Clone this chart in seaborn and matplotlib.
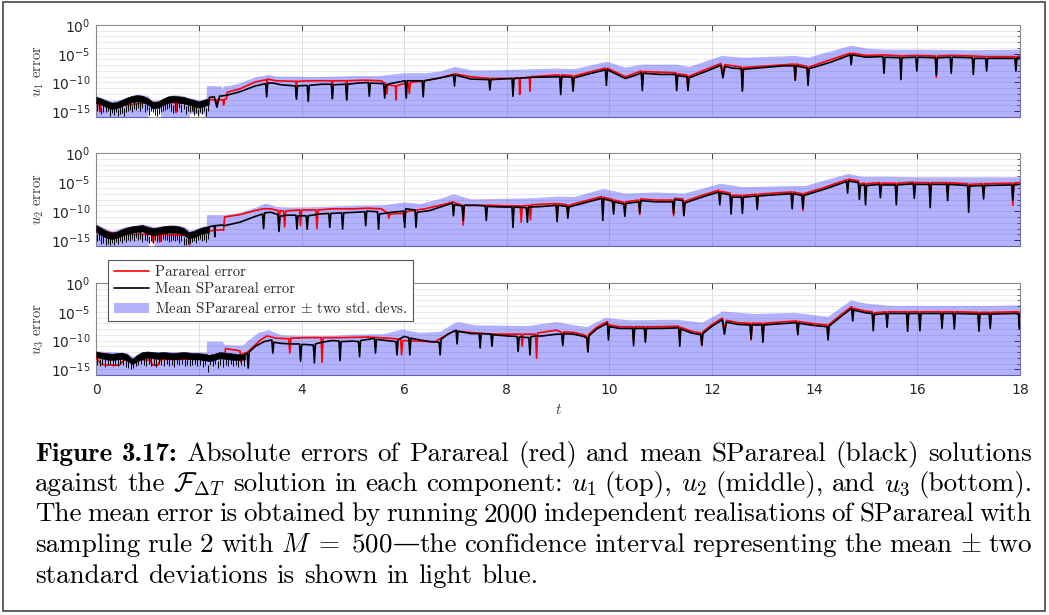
import numpy as np
import matplotlib
matplotlib.use("Agg")
import matplotlib.pyplot as plt
import matplotlib.ticker as mticker
from matplotlib.lines import Line2D
from matplotlib.patches import Patch, Rectangle
from matplotlib.transforms import IdentityTransform
import seaborn as sns

# all values are log10(error)

# ---------- u1 ----------
U1_NOISE_T = [0.0, 0.1, 0.2, 0.3, 0.4, 0.5, 0.6, 0.7, 0.8, 0.9, 1.0, 1.1,
              1.2, 1.3, 1.4, 1.5, 1.6, 1.7, 1.8, 1.9, 2.0, 2.1, 2.2]
U1_NOISE_HI = [-12.5, -12.8, -13.2, -13.5, -13.4, -13.0, -12.6, -12.3, -12.2, -12.3, -12.7, -13.4,
               -13.3, -12.8, -12.4, -12.3, -12.4, -12.5, -12.8, -13.0, -13.3, -13.0, -12.7]
U1_NOISE_LO = [-13.6, -13.9, -14.3, -14.6, -14.5, -14.1, -13.7, -13.4, -13.3, -13.4, -13.8, -14.5,
               -14.4, -13.9, -13.5, -13.4, -13.5, -13.6, -13.9, -14.1, -14.4, -14.1, -13.8]
SPIKE_T = [0.02, 0.06, 0.10, 0.14, 0.18, 0.22, 0.26, 0.30, 0.34, 0.38, 0.42, 0.46, 0.50, 0.54,
           0.58, 0.62, 0.66, 0.70, 0.74, 0.78, 0.82, 0.86, 0.90, 0.94, 0.98, 1.02, 1.06, 1.10,
           1.14, 1.18, 1.22, 1.26, 1.30, 1.34, 1.38, 1.42, 1.46, 1.50, 1.54, 1.58, 1.62, 1.66,
           1.70, 1.74, 1.78, 1.82, 1.86, 1.90, 1.94, 1.98, 2.02, 2.06, 2.10, 2.14, 2.18]
U1_SPIKE_V = [-15.0, -14.6, -15.5, -15.1, -15.2, -14.9, -15.8, -15.3, -15.6, -15.1,
              -15.9, -15.4, -15.3, -15.8, -15.2, -15.0, -14.7, -15.2, -14.6, -14.8,
              -14.4, -14.9, -14.5, -15.1, -14.7, -15.6, -15.0, -15.2, -15.7, -15.9,
              -15.4, -15.1, -15.0, -14.8, -14.6, -14.4, -14.9, -15.3, -14.7, -14.9,
              -14.4, -15.1, -14.6, -15.4, -14.9, -15.2, -15.0, -15.6, -15.3, -15.9,
              -15.2, -15.5, -15.0, -15.8, -14.9]
U1_BLACK = [(2.20, -12.6), (2.30, -12.5), (2.35, -14.3), (2.40, -12.4), (2.55, -12.2), (2.80, -11.6),
            (3.10, -10.6), (3.30, -10.2), (3.32, -12.5), (3.34, -10.1), (3.45, -10.1), (3.60, -10.4),
            (3.88, -10.6), (3.90, -12.9), (3.92, -10.6), (4.11, -10.5), (4.13, -13.3), (4.15, -10.5),
            (4.40, -10.3), (4.58, -10.3), (4.60, -12.8), (4.62, -10.4), (4.86, -10.3), (4.88, -13.0),
            (4.90, -10.3), (5.10, -10.1), (5.30, -10.0), (5.32, -12.4), (5.34, -10.1), (5.60, -10.2),
            (5.62, -12.7), (5.64, -10.5), (5.72, -10.2), (5.90, -9.9), (6.02, -9.7), (6.04, -12.7),
            (6.06, -9.7), (6.35, -9.7), (6.37, -12.5), (6.39, -9.7), (6.70, -9.2), (6.96, -8.7),
            (6.98, -10.6), (7.00, -8.7), (7.30, -9.4), (7.65, -9.5), (7.67, -11.3), (7.69, -9.5),
            (8.10, -9.3), (8.12, -12.4), (8.14, -9.3), (8.50, -9.1), (9.03, -9.0), (9.05, -12.1),
            (9.07, -9.0), (9.27, -9.1), (9.29, -11.5), (9.31, -9.2), (9.60, -8.5), (9.92, -7.8),
            (9.94, -10.5), (9.96, -7.8), (10.31, -9.3), (10.55, -8.6), (10.62, -8.3), (10.64, -11.4),
            (10.66, -8.4), (11.00, -8.6), (11.29, -8.6), (11.31, -11.4), (11.33, -8.8), (11.51, -9.0),
            (11.53, -11.4), (11.55, -9.2), (11.90, -8.0), (12.17, -7.0), (12.21, -9.2), (12.25, -7.2),
            (12.40, -7.5), (12.57, -7.6), (12.59, -11.5), (12.61, -7.7), (13.00, -7.4), (13.40, -7.1),
            (13.60, -7.1), (13.62, -9.6), (13.64, -7.1), (13.85, -7.5), (13.87, -10.5), (13.89, -7.6),
            (14.30, -6.5), (14.69, -5.2), (14.71, -6.9), (14.73, -5.2), (15.00, -5.6), (15.33, -5.5),
            (15.35, -8.4), (15.37, -5.6), (15.66, -5.7), (15.68, -9.5), (15.70, -5.7), (15.97, -5.6),
            (15.99, -8.0), (16.01, -5.6), (16.35, -5.7), (16.37, -8.7), (16.39, -5.7), (16.64, -5.6),
            (16.66, -8.4), (16.68, -5.6), (17.07, -5.7), (17.09, -8.6), (17.11, -5.8), (17.33, -5.8),
            (17.35, -8.0), (17.37, -5.8), (17.90, -5.8), (17.92, -8.0), (17.94, -5.8), (18.00, -5.7)]
U1_RED = [(0.00, -13.5), (0.06, -13.8), (0.07, -15.1), (0.08, -13.8), (0.50, -14.0), (1.00, -13.5),
          (1.54, -13.5), (1.55, -15.2), (1.56, -13.5), (1.90, -13.8), (1.91, -15.0), (1.92, -13.8),
          (2.20, -13.0), (2.34, -13.0), (2.35, -14.0), (2.36, -13.0), (2.47, -13.0), (2.48, -13.9),
          (2.50, -12.9), (2.54, -12.8), (2.55, -11.7), (2.80, -11.1), (3.10, -9.9), (3.32, -9.5),
          (3.33, -10.3), (3.34, -9.4), (3.50, -9.7), (3.89, -9.8), (3.90, -12.5), (3.91, -9.8),
          (4.20, -9.7), (4.59, -9.7), (4.60, -12.8), (4.61, -9.7), (4.87, -9.7), (4.88, -13.0),
          (4.89, -9.7), (5.20, -9.6), (5.55, -9.7), (5.64, -10.2), (5.66, -12.0), (5.68, -10.4),
          (5.83, -10.6), (5.84, -13.0), (5.85, -10.6), (5.95, -10.3), (6.08, -10.1), (6.10, -11.9),
          (6.12, -10.0), (6.40, -9.7), (6.70, -9.2), (6.98, -8.5), (7.30, -9.0), (7.67, -9.3),
          (8.12, -9.3), (8.24, -9.2), (8.25, -12.1), (8.26, -9.2), (8.44, -9.1), (8.45, -11.5),
          (8.46, -9.0), (8.96, -8.7), (9.03, -8.7), (9.05, -10.5), (9.07, -8.7), (9.27, -8.8),
          (9.29, -11.0), (9.31, -8.9), (9.60, -8.2), (9.92, -7.5), (9.94, -9.0), (9.96, -7.5),
          (10.31, -9.0), (10.62, -8.0), (10.64, -10.5), (10.66, -8.1), (11.29, -8.3), (11.31, -10.0),
          (11.33, -8.5), (11.51, -8.7), (11.53, -11.2), (11.55, -8.9), (12.17, -6.7), (12.21, -8.0),
          (12.25, -6.9), (12.57, -7.3), (12.59, -11.3), (12.61, -7.4), (13.60, -6.8), (13.62, -9.6),
          (13.64, -6.8), (13.85, -7.2), (13.87, -9.5), (13.89, -7.3), (14.69, -4.9), (14.71, -6.0),
          (14.73, -4.9), (15.00, -5.3), (15.35, -5.2), (15.68, -5.4), (15.99, -5.3), (16.35, -5.4),
          (16.37, -9.1), (16.39, -5.4), (16.66, -5.3), (17.09, -5.4), (17.35, -5.5), (17.90, -5.5),
          (17.92, -6.5), (17.94, -5.5), (18.00, -5.4)]
# (t, lower, upper) of mean +- two std. devs.
U1_BAND = [(0.0, -17, -12.3), (0.3, -17, -13.2), (0.5, -17, -12.9), (0.8, -17, -12.0), (1.0, -17, -12.3),
           (1.01, -14.6, -12.4), (1.1, -14.6, -13.1), (1.25, -14.6, -13.0), (1.26, -17, -12.9),
           (1.5, -17, -12.1), (1.7, -17, -12.3), (1.8, -17, -12.6), (1.81, -15.4, -12.6), (2.0, -15.4, -13.0),
           (2.1, -15.4, -12.8), (2.11, -17, -12.8), (2.14, -17, -12.7), (2.15, -17, -10.5), (2.43, -17, -10.6),
           (2.45, -17, -11.2), (2.47, -17, -10.6), (2.6, -17, -10.5), (2.8, -17, -10.0), (3.1, -17, -9.0),
           (3.3, -17, -8.7), (3.36, -17, -8.6), (3.5, -17, -8.9), (3.9, -17, -8.9), (4.13, -17, -9.0),
           (4.6, -17, -8.9), (5.0, -17, -8.8), (5.5, -17, -8.8), (5.7, -17, -8.6), (6.0, -17, -8.3),
           (6.4, -17, -8.3), (6.7, -17, -8.0), (6.98, -17, -7.2), (7.05, -17, -7.3), (7.3, -17, -7.8),
           (7.7, -17, -7.8), (8.1, -17, -7.7), (8.5, -17, -7.6), (9.0, -17, -7.5), (9.3, -17, -7.6),
           (9.94, -17, -6.3), (10.3, -17, -7.3), (10.64, -17, -6.8), (11.3, -17, -6.8), (11.55, -17, -7.2),
           (12.18, -17, -5.3), (12.6, -17, -5.6), (13.6, -17, -5.3), (13.87, -17, -5.6), (14.7, -17, -3.5),
           (15.0, -17, -4.0), (15.35, -17, -4.2), (16.0, -17, -4.2), (17.0, -17, -4.3), (18.0, -17, -4.2)]

# ---------- u2 ----------
U2_NOISE_T = U1_NOISE_T
U2_NOISE_HI = [-12.4, -12.9, -13.4, -13.7, -13.5, -13.1, -12.8, -12.6, -12.5, -12.4, -12.7, -12.9,
               -12.8, -12.6, -12.5, -12.5, -12.6, -12.9, -13.6, -13.4, -13.0, -12.7, -12.6]
U2_NOISE_LO = [-13.6, -14.2, -14.6, -14.8, -14.6, -14.2, -13.9, -13.7, -13.6, -13.5, -13.9, -14.1,
               -14.0, -13.8, -13.7, -13.7, -13.8, -14.1, -14.7, -14.5, -14.1, -13.8, -13.7]
U2_SPIKE_V = [-15.2, -15.0, -15.6, -15.4, -15.9, -15.7, -15.8, -15.5, -15.9, -15.3,
              -15.6, -15.2, -15.4, -15.0, -15.3, -14.9, -15.1, -14.8, -15.2, -14.7,
              -15.0, -14.8, -15.3, -14.9, -15.1, -15.5, -15.2, -15.4, -15.0, -15.3,
              -14.9, -15.2, -14.8, -15.0, -14.9, -15.3, -15.1, -14.9, -15.2, -15.0,
              -15.4, -15.2, -15.8, -15.9, -15.6, -15.5, -15.3, -15.1, -15.4, -15.0,
              -14.8, -15.2, -14.9, -15.3, -14.8]
U2_BLACK = [(2.20, -12.7), (2.30, -12.5), (2.31, -14.4), (2.32, -12.5), (2.45, -12.4), (2.50, -12.5),
            (2.80, -11.9), (3.10, -10.9), (3.24, -10.5), (3.26, -13.0), (3.28, -10.3), (3.40, -10.2),
            (3.54, -10.6), (3.56, -13.5), (3.58, -10.9), (3.70, -10.7), (3.89, -10.7), (3.91, -13.1),
            (3.93, -10.8), (4.09, -10.8), (4.11, -13.1), (4.13, -10.8), (4.35, -10.5), (4.53, -10.4),
            (4.55, -12.8), (4.57, -10.4), (4.78, -10.3), (4.80, -13.1), (4.82, -10.3), (5.05, -10.2),
            (5.23, -10.1), (5.25, -12.5), (5.27, -10.0), (5.48, -10.1), (5.50, -13.1), (5.52, -10.5),
            (5.75, -10.2), (5.99, -10.0), (6.01, -12.8), (6.03, -9.6), (6.21, -9.8), (6.23, -12.8),
            (6.25, -10.2), (6.50, -9.9), (6.80, -9.0), (6.94, -8.6), (6.96, -10.8), (6.98, -8.9),
            (7.13, -9.1), (7.15, -11.6), (7.17, -9.0), (7.40, -9.0), (7.58, -9.1), (7.60, -11.6),
            (7.62, -9.2), (7.95, -9.3), (8.10, -9.3), (8.12, -12.8), (8.14, -9.3), (8.38, -9.4),
            (8.40, -11.9), (8.42, -9.3), (8.70, -9.2), (8.96, -9.0), (8.98, -11.8), (9.00, -9.0),
            (9.17, -9.2), (9.19, -11.2), (9.21, -9.3), (9.50, -8.6), (9.85, -7.8), (9.87, -11.6),
            (9.89, -7.9), (10.06, -8.3), (10.08, -10.5), (10.10, -8.4), (10.28, -8.8), (10.30, -10.9),
            (10.32, -8.7), (10.57, -8.4), (10.59, -10.3), (10.61, -8.2), (10.90, -8.4), (11.23, -8.4),
            (11.25, -10.4), (11.27, -8.0), (11.43, -8.2), (11.45, -10.8), (11.47, -8.6), (11.80, -7.6),
            (12.13, -6.7), (12.15, -8.9), (12.17, -6.9), (12.35, -7.2), (12.37, -10.5), (12.39, -7.6),
            (12.57, -7.6), (12.59, -10.4), (12.61, -7.6), (12.86, -7.4), (12.88, -9.7), (12.90, -7.4),
            (13.20, -7.2), (13.54, -7.0), (13.56, -9.6), (13.58, -7.0), (13.75, -7.3), (13.77, -9.5),
            (13.79, -7.3), (14.20, -6.2), (14.62, -4.9), (14.64, -6.9), (14.66, -4.8), (14.85, -5.1),
            (14.87, -8.0), (14.89, -5.6), (14.97, -5.5), (14.99, -8.9), (15.01, -5.6), (15.26, -5.4),
            (15.28, -7.7), (15.30, -5.5), (15.57, -5.5), (15.59, -8.9), (15.61, -5.5), (15.92, -5.3),
            (15.94, -7.8), (15.96, -5.4), (16.23, -5.4), (16.25, -9.4), (16.27, -5.4), (16.57, -5.4),
            (16.59, -8.2), (16.61, -5.4), (16.98, -5.6), (17.00, -10.2), (17.02, -5.7), (17.27, -5.6),
            (17.29, -7.9), (17.31, -5.6), (17.84, -5.5), (17.86, -8.1), (17.88, -5.5), (18.00, -5.4)]
U2_RED = [(0.00, -13.3), (0.50, -14.0), (1.09, -14.0), (1.11, -15.4), (1.13, -14.0), (1.22, -14.0),
          (1.24, -15.3), (1.26, -14.0), (1.80, -14.2), (1.82, -15.8), (1.84, -14.2), (2.20, -13.4),
          (2.45, -13.2), (2.48, -13.3), (2.50, -11.0), (2.80, -10.6), (3.10, -9.9), (3.25, -9.6),
          (3.40, -9.6), (3.54, -9.9), (3.56, -12.9), (3.58, -9.9), (3.65, -10.0), (3.67, -12.7),
          (3.69, -10.0), (3.80, -9.9), (3.96, -9.8), (3.98, -12.5), (4.00, -9.8), (4.28, -9.8),
          (4.30, -13.0), (4.32, -9.8), (4.60, -9.6), (5.00, -9.6), (5.30, -9.5), (5.55, -9.6),
          (5.68, -10.3), (5.70, -11.2), (5.72, -10.5), (5.90, -10.4), (5.98, -10.4), (6.00, -11.8),
          (6.02, -10.2), (6.10, -10.0), (6.40, -9.6), (6.80, -8.8), (6.95, -8.4), (7.00, -8.6),
          (7.13, -9.0), (7.15, -12.4), (7.17, -9.0), (7.40, -9.0), (7.70, -9.0), (8.00, -9.1),
          (8.26, -9.1), (8.28, -11.9), (8.30, -9.1), (8.44, -9.0), (8.46, -11.5), (8.48, -8.9),
          (8.70, -8.8), (8.96, -8.7), (8.98, -11.0), (9.00, -8.7), (9.17, -8.9), (9.19, -10.6),
          (9.21, -9.0), (9.50, -8.3), (9.85, -7.5), (9.87, -9.5), (9.89, -7.6), (10.06, -8.0),
          (10.08, -9.8), (10.10, -8.1), (10.28, -8.5), (10.30, -10.2), (10.32, -8.4), (10.57, -8.1),
          (10.59, -10.6), (10.61, -7.9), (10.90, -8.1), (11.23, -8.1), (11.25, -10.8), (11.27, -7.8),
          (11.43, -7.9), (11.45, -10.7), (11.47, -8.3), (11.80, -7.3), (12.13, -6.4), (12.15, -7.8),
          (12.17, -6.6), (12.35, -6.9), (12.37, -9.0), (12.39, -7.3), (12.57, -7.3), (12.59, -9.8),
          (12.61, -7.3), (12.86, -7.1), (12.88, -8.9), (12.90, -7.1), (13.20, -6.9), (13.54, -6.7),
          (13.56, -8.5), (13.58, -6.7), (13.75, -7.0), (13.77, -9.9), (13.79, -7.0), (14.20, -5.9),
          (14.62, -4.6), (14.64, -5.8), (14.66, -4.5), (14.85, -4.8), (14.87, -6.5), (14.89, -5.3),
          (14.97, -5.2), (14.99, -7.0), (15.01, -5.3), (15.26, -5.1), (15.28, -6.5), (15.30, -5.2),
          (15.57, -5.2), (15.59, -7.2), (15.61, -5.2), (15.92, -5.0), (15.94, -6.8), (15.96, -5.1),
          (16.23, -5.1), (16.25, -7.5), (16.27, -5.1), (16.57, -5.1), (16.59, -7.0), (16.61, -5.1),
          (16.98, -5.3), (17.00, -7.5), (17.02, -5.4), (17.27, -5.3), (17.29, -6.8), (17.31, -5.3),
          (17.84, -5.2), (17.86, -9.0), (17.88, -5.2), (18.00, -5.1)]
U2_BAND = [(0.0, -17, -12.2), (0.3, -17, -13.4), (0.6, -17, -12.6), (0.9, -17, -12.2), (1.01, -17, -12.4),
           (1.02, -14.2, -12.4), (1.12, -14.2, -12.7), (1.13, -17, -12.7), (1.2, -17, -12.6), (1.5, -17, -12.3),
           (1.7, -17, -12.6), (1.82, -17, -13.3), (2.0, -17, -12.8), (2.14, -17, -12.5), (2.15, -17, -10.6),
           (2.5, -17, -10.6), (2.8, -17, -10.2), (3.1, -17, -9.3), (3.3, -17, -8.6), (3.5, -17, -9.2),
           (3.8, -17, -9.3), (4.4, -17, -9.2), (5.0, -17, -9.0), (5.6, -17, -8.9), (6.0, -17, -8.4),
           (6.3, -17, -8.7), (6.7, -17, -7.8), (6.95, -17, -7.0), (7.3, -17, -7.9), (7.9, -17, -7.8),
           (8.5, -17, -7.7), (9.0, -17, -7.4), (9.3, -17, -7.5), (9.87, -17, -6.1), (10.3, -17, -6.9),
           (10.9, -17, -6.7), (11.45, -17, -6.9), (12.15, -17, -5.2), (12.6, -17, -5.8), (13.5, -17, -5.6),
           (13.8, -17, -5.6), (14.65, -17, -3.5), (14.9, -17, -4.0), (15.4, -17, -4.0), (16.0, -17, -4.1),
           (17.0, -17, -4.1), (18.0, -17, -4.1)]

# ---------- u3 ----------
U3_NOISE_T = [0.0, 0.1, 0.2, 0.3, 0.4, 0.5, 0.6, 0.7, 0.8, 0.9, 1.0, 1.1, 1.2, 1.3, 1.4,
              1.5, 1.6, 1.7, 1.8, 1.9, 2.0, 2.1, 2.2, 2.3, 2.4, 2.5, 2.6, 2.7, 2.8, 2.9]
U3_NOISE_HI = [-11.9, -12.1, -12.2, -12.3, -12.2, -12.1, -12.4, -13.2, -12.5, -12.0, -11.9, -12.0, -12.1, -12.0, -12.1,
               -12.2, -12.1, -12.0, -12.1, -12.2, -12.2, -12.3, -12.5, -12.3, -12.0, -12.1, -12.2, -12.3, -12.4, -12.4]
U3_NOISE_LO = [-12.9, -13.1, -13.3, -13.4, -13.3, -13.2, -13.5, -14.1, -13.6, -13.2, -13.0, -13.1, -13.2, -13.1, -13.2,
               -13.3, -13.2, -13.1, -13.2, -13.3, -13.3, -13.4, -13.6, -13.4, -13.1, -13.2, -13.3, -13.4, -13.4, -13.3]
U3_SPIKE_T = [0.02, 0.07, 0.12, 0.17, 0.22, 0.27, 0.32, 0.37, 0.42, 0.47, 0.52, 0.57, 0.62, 0.67, 0.72,
              0.77, 0.82, 0.87, 0.92, 0.97, 1.02, 1.07, 1.12, 1.17, 1.22, 1.27, 1.32, 1.37, 1.42, 1.47,
              1.52, 1.57, 1.62, 1.67, 1.72, 1.77, 1.82, 1.87, 1.92, 1.97, 2.02, 2.07, 2.12, 2.17, 2.22,
              2.27, 2.32, 2.37, 2.42, 2.47, 2.52, 2.57, 2.62, 2.67, 2.72, 2.77, 2.82, 2.87]
U3_SPIKE_V = [-14.2, -14.5, -14.0, -14.6, -14.3, -14.1, -14.5, -14.2, -14.4, -14.0,
              -14.3, -14.6, -14.8, -15.0, -14.7, -14.4, -14.2, -14.0, -14.3, -14.5,
              -14.1, -14.4, -14.2, -14.6, -14.0, -14.3, -14.5, -14.1, -14.4, -14.2,
              -14.6, -14.1, -14.3, -14.0, -14.4, -14.2, -14.5, -14.3, -14.1, -14.4,
              -14.2, -14.6, -14.3, -15.5, -14.2, -14.4, -14.1, -14.8, -14.3, -14.6,
              -14.2, -14.4, -14.0, -14.5, -14.3, -14.6, -14.2, -14.5]
U3_BLACK = [(2.90, -12.4), (2.94, -12.2), (2.96, -14.8), (2.98, -12.0), (3.10, -11.0), (3.27, -10.2),
            (3.42, -9.9), (3.44, -12.2), (3.46, -10.3), (3.60, -10.5), (3.80, -10.6), (3.96, -10.6),
            (3.98, -13.6), (4.00, -10.7), (4.10, -10.7), (4.23, -10.8), (4.25, -13.9), (4.27, -10.6),
            (4.40, -10.3), (4.60, -10.0), (4.73, -10.1), (4.75, -13.5), (4.77, -10.2), (5.00, -10.1),
            (5.11, -10.2), (5.13, -12.8), (5.15, -10.0), (5.30, -9.8), (5.42, -9.6), (5.44, -12.2),
            (5.46, -9.8), (5.65, -10.0), (5.84, -10.2), (5.86, -12.5), (5.88, -9.9), (6.00, -9.3),
            (6.09, -9.5), (6.11, -12.5), (6.13, -9.6), (6.30, -9.9), (6.50, -10.2), (6.68, -10.3),
            (6.70, -12.5), (6.72, -9.8), (6.85, -8.9), (7.01, -8.2), (7.03, -10.6), (7.05, -8.4),
            (7.30, -8.8), (7.46, -8.8), (7.48, -11.3), (7.50, -8.8), (7.69, -8.9), (7.71, -11.0),
            (7.73, -9.0), (8.00, -9.2), (8.20, -9.3), (8.22, -11.9), (8.24, -9.4), (8.43, -9.5),
            (8.45, -12.5), (8.47, -9.3), (8.70, -9.2), (8.97, -8.9), (9.07, -8.9), (9.09, -10.9),
            (9.11, -8.8), (9.30, -8.9), (9.50, -9.3), (9.56, -9.6), (9.58, -12.0), (9.60, -9.2),
            (9.75, -8.0), (9.90, -7.3), (9.96, -7.0), (9.98, -9.9), (10.00, -7.6), (10.20, -7.9),
            (10.45, -7.9), (10.47, -10.9), (10.49, -7.9), (10.68, -7.9), (10.70, -10.3), (10.72, -7.9),
            (11.00, -7.9), (11.35, -7.8), (11.37, -11.0), (11.39, -8.0), (11.60, -8.7), (11.78, -9.0),
            (11.80, -10.8), (11.82, -8.8), (12.00, -7.5), (12.20, -6.4), (12.24, -8.9), (12.28, -6.8),
            (12.50, -7.2), (12.74, -7.3), (12.76, -9.7), (12.78, -7.3), (12.97, -7.3), (12.99, -10.3),
            (13.01, -7.3), (13.30, -7.1), (13.65, -6.9), (13.67, -9.0), (13.69, -7.0), (14.00, -7.4),
            (14.24, -7.6), (14.26, -9.9), (14.28, -7.5), (14.50, -5.9), (14.72, -4.4), (14.74, -6.6),
            (14.76, -4.7), (15.00, -5.2), (15.12, -5.3), (15.14, -8.3), (15.16, -5.5), (15.39, -5.3),
            (15.41, -7.7), (15.43, -5.3), (15.79, -5.3), (15.81, -8.4), (15.83, -5.3), (16.03, -5.3),
            (16.05, -8.3), (16.07, -5.3), (16.46, -5.3), (16.48, -7.9), (16.50, -5.3), (16.70, -5.3),
            (16.72, -8.0), (16.74, -5.3), (17.18, -5.4), (17.20, -8.4), (17.22, -5.4), (17.40, -5.4),
            (17.42, -7.9), (17.44, -5.4), (17.90, -5.3), (17.97, -5.4), (17.99, -7.9), (18.00, -5.4)]
U3_RED = [(0.00, -13.0), (0.10, -14.2), (0.45, -14.3), (0.55, -13.3), (1.05, -13.4), (1.10, -14.3),
          (1.20, -14.3), (1.25, -13.3), (2.00, -13.2), (2.10, -13.4), (2.15, -12.5), (2.20, -12.8),
          (2.50, -12.6), (2.52, -11.4), (2.80, -11.8), (2.82, -13.8), (2.84, -12.4), (2.95, -12.0),
          (3.20, -9.9), (3.33, -9.2), (3.50, -9.6), (3.75, -9.7), (3.77, -12.2), (3.79, -9.6),
          (4.10, -9.5), (4.38, -9.5), (4.40, -13.8), (4.42, -9.5), (4.80, -9.5), (5.30, -9.4),
          (5.70, -9.6), (5.93, -9.8), (5.95, -12.5), (5.97, -10.0), (6.20, -10.1), (6.60, -10.2),
          (6.85, -8.9), (7.00, -8.3), (7.05, -8.4), (7.40, -8.7), (7.80, -8.9), (8.28, -8.9),
          (8.30, -11.0), (8.32, -8.9), (8.56, -8.9), (8.58, -13.1), (8.60, -8.7), (8.97, -8.2),
          (9.07, -8.6), (9.09, -10.5), (9.11, -8.5), (9.30, -8.6), (9.50, -9.0), (9.56, -9.3),
          (9.58, -11.9), (9.60, -8.9), (9.75, -7.7), (9.96, -6.7), (9.98, -9.0), (10.00, -7.3),
          (10.20, -7.6), (10.45, -7.6), (10.47, -10.0), (10.49, -7.6), (10.68, -7.6), (10.70, -9.6),
          (10.72, -7.6), (11.00, -7.6), (11.35, -7.5), (11.37, -9.8), (11.39, -7.7), (11.60, -8.4),
          (11.78, -8.7), (11.80, -10.9), (11.82, -8.5), (12.00, -7.2), (12.20, -6.1), (12.24, -8.0),
          (12.28, -6.5), (12.50, -6.9), (12.74, -7.0), (12.76, -9.9), (12.78, -7.0), (12.97, -7.0),
          (12.99, -9.5), (13.01, -7.0), (13.30, -6.8), (13.65, -6.6), (13.67, -8.5), (13.69, -6.7),
          (14.00, -7.1), (14.24, -7.3), (14.26, -9.5), (14.28, -7.2), (14.50, -5.6), (14.72, -4.1),
          (14.74, -5.8), (14.76, -4.4), (15.00, -4.9), (15.12, -5.0), (15.14, -7.0), (15.16, -5.2),
          (15.39, -5.0), (15.41, -6.7), (15.43, -5.0), (15.79, -5.0), (15.81, -7.2), (15.83, -5.0),
          (16.03, -5.0), (16.05, -7.0), (16.07, -5.0), (16.46, -5.0), (16.48, -6.8), (16.50, -5.0),
          (16.70, -5.0), (16.72, -7.0), (16.74, -5.0), (17.18, -5.1), (17.20, -7.2), (17.22, -5.1),
          (17.40, -5.1), (17.42, -6.9), (17.44, -5.1), (17.97, -5.0), (17.99, -6.8), (18.00, -5.1)]
U3_BAND = [(0.0, -17, -11.8), (0.6, -17, -12.1), (0.72, -17, -12.8), (0.85, -17, -12.0), (1.5, -17, -11.9),
           (2.0, -17, -12.0), (2.14, -17, -12.0), (2.15, -17, -10.1), (2.45, -17, -10.1), (2.5, -17, -10.7),
           (2.85, -17, -10.8), (2.93, -17, -10.1), (3.15, -17, -8.6), (3.35, -17, -8.1), (3.6, -17, -9.0),
           (4.0, -17, -9.1), (4.6, -17, -9.1), (5.0, -17, -8.9), (5.6, -17, -8.8), (5.95, -17, -8.0),
           (6.3, -17, -8.6), (6.7, -17, -8.4), (6.95, -17, -7.0), (7.05, -17, -6.7), (7.4, -17, -7.3),
           (7.8, -17, -7.3), (8.4, -17, -7.4), (8.97, -17, -6.7), (9.2, -17, -7.1), (9.55, -17, -7.6),
           (9.9, -17, -6.0), (10.4, -17, -6.4), (11.3, -17, -6.3), (11.8, -17, -6.8), (12.2, -17, -4.85),
           (12.8, -17, -5.3), (13.6, -17, -5.1), (14.25, -17, -5.8), (14.7, -17, -2.95), (15.0, -17, -3.5),
           (15.5, -17, -3.9), (16.5, -17, -3.9), (17.5, -17, -3.9), (18.0, -17, -3.8)]

Y_LABELS = [r"$u_1$ error", r"$u_2$ error", r"$u_3$ error"]
LEGEND_LABELS = ["Parareal error", "Mean SParareal error",
                 r"Mean SParareal error $\pm$ two std. devs."]
# caption, one list of words per printed line; a word given as a list is
# built from pieces set next to each other
CAPTION = [
    ["Figure", "3.17:", "Absolute", "errors", "of", "Parareal", "(red)", "and", "mean", "SParareal",
     "(black)", "solutions"],
    ["against", "the", r"$\mathcal{F}_{\Delta T}$", "solution", "in", "each", "component:", "$u_1$",
     "(top),", "$u_2$", "(middle),", "and", "$u_3$", "(bottom)."],
    ["The", "mean", "error", "is", "obtained", "by", "running", "2000", "independent", "realisations",
     "of", "SParareal", "with"],
    ["sampling", "rule", "2", "with", [r"$M\;=\;500$", "\u2014", "the"], "confidence", "interval",
     "representing", "the", "mean", r"$\pm$", "two"],
    ["standard", "deviations", "is", "shown", "in", "light", "blue."],
]

sns.set_style("white")
plt.rcParams["mathtext.fontset"] = "cm"
plt.rcParams["font.family"] = ["DejaVu Sans"]

W, H = 1049, 615
fig = plt.figure(figsize=(W / 100, H / 100), dpi=100)

SERIF = ["cmr10", "DejaVu Serif"]
TICK_COL = "#262626"
BAND_COL = (0.0, 0.0, 1.0, 0.3)


def draw_panel(ax, noise_t, noise_hi, noise_lo, spike_t, spike_v, red, black, band):
    band = np.array(band)
    ax.fill_between(band[:, 0], 10 ** band[:, 1], 10 ** band[:, 2], color=BAND_COL, lw=0, zorder=3)
    red = np.array(red)
    sns.lineplot(x=red[:, 0], y=10 ** red[:, 1], ax=ax, color="red", lw=1.2,
                 estimator=None, sort=False, zorder=4)
    ax.fill_between(noise_t, 10 ** np.array(noise_lo), 10 ** np.array(noise_hi),
                    color="black", lw=0.4, zorder=5)
    ax.vlines(spike_t, 10 ** np.array(spike_v), 10 ** (np.array(spike_v) + 1.3),
              color="black", lw=0.7, zorder=5)
    black = np.array(black)
    sns.lineplot(x=black[:, 0], y=10 ** black[:, 1], ax=ax, color="black", lw=1.2,
                 estimator=None, sort=False, zorder=5)

    ax.set_yscale("log")
    ax.set_xlim(0, 18)
    ax.set_ylim(1e-16, 1)
    ax.xaxis.set_major_locator(mticker.MultipleLocator(2))
    ax.yaxis.set_major_locator(mticker.FixedLocator([1e-15, 1e-10, 1e-5, 1.0]))
    ax.yaxis.set_major_formatter(mticker.LogFormatterMathtext())
    ax.yaxis.set_minor_locator(mticker.FixedLocator([10.0 ** k for k in range(-16, 1) if k % 5]))
    ax.yaxis.set_minor_formatter(mticker.NullFormatter())
    ax.tick_params(which="both", direction="in", top=True, right=True, colors=TICK_COL)
    ax.tick_params(which="major", length=4, width=0.6, labelsize=10, pad=4)
    ax.tick_params(which="minor", length=2.5, width=0.5)
    ax.set_axisbelow(True)
    ax.grid(True, which="major", axis="x", color="#dcdcdc", lw=0.6)
    ax.grid(True, which="both", axis="y", color="#e2e2e2", lw=0.5)
    for sp in ax.spines.values():
        sp.set_color("#8a8a8a")
        sp.set_linewidth(0.8)
    ax.set_xlabel("")


# axes positions in pixels (left, top, right, bottom)
rects = [(96.3, 25, 1020, 117), (96.3, 153, 1020, 246), (96.3, 283, 1020, 375)]
panels = [
    (U1_NOISE_T, U1_NOISE_HI, U1_NOISE_LO, SPIKE_T, U1_SPIKE_V, U1_RED, U1_BLACK, U1_BAND),
    (U2_NOISE_T, U2_NOISE_HI, U2_NOISE_LO, SPIKE_T, U2_SPIKE_V, U2_RED, U2_BLACK, U2_BAND),
    (U3_NOISE_T, U3_NOISE_HI, U3_NOISE_LO, U3_SPIKE_T, U3_SPIKE_V, U3_RED, U3_BLACK, U3_BAND),
]
axes = []
for (l, t, r, b), data, lab in zip(rects, panels, Y_LABELS):
    ax = fig.add_axes([l / W, 1 - b / H, (r - l) / W, (b - t) / H])
    draw_panel(ax, *data)
    ax.set_ylabel(lab, family=SERIF, fontsize=10.5, color="#3a3a3a")
    ax.yaxis.set_label_coords(-0.054, 0.5)
    axes.append(ax)

for ax in axes[:2]:
    ax.tick_params(labelbottom=False)

ax3 = axes[2]
ax3.set_xlabel("$t$", fontsize=11, color="#3a3a3a")
ax3.xaxis.set_label_coords(0.5, -0.29)
ax3.tick_params(which="major", axis="x", pad=6)

handles = [Line2D([], [], color="red", lw=1.2),
           Line2D([], [], color="black", lw=1.2),
           Patch(facecolor=BAND_COL, edgecolor="none")]
leg = ax3.legend(handles, LEGEND_LABELS, loc="upper left", bbox_to_anchor=(0.013, 1.25),
                 prop={"family": SERIF, "size": 10.7}, frameon=True, fancybox=False,
                 edgecolor="#555555", framealpha=1, borderaxespad=0, handlelength=2.4,
                 handletextpad=0.4, labelspacing=0.25, borderpad=0.35)
leg.get_frame().set_linewidth(0.8)
leg.set_zorder(10)

# caption, justified between x0 and x1 (pixel coordinates)
CAP_SIZE = 19.5
x0, x1 = 35, 1032
baselines = [461, 491, 521, 552, 583]
renderer = fig.canvas.get_renderer()


def cap_text(s, fam):
    return fig.text(0, 0, s, transform=IdentityTransform(), family=fam,
                    fontsize=CAP_SIZE, va="baseline", ha="left", color="black")


for i, (words, yb) in enumerate(zip(CAPTION, baselines)):
    groups = []
    for j, w in enumerate(words):
        fam = ["cmb10", "DejaVu Serif"] if (i == 0 and j < 2) else SERIF
        pieces = w if isinstance(w, list) else [w]
        groups.append([cap_text(p, ["DejaVu Serif"] if p == "\u2014" else fam) for p in pieces])
    widths = [[t.get_window_extent(renderer).width for t in g] for g in groups]
    total = sum(sum(ws) for ws in widths)
    if i < len(CAPTION) - 1:
        gap = (x1 - x0 - total) / (len(groups) - 1)
    else:
        gap = CAP_SIZE * 0.333 * 100 / 72
    x = x0
    for g, ws in zip(groups, widths):
        for t, w in zip(g, ws):
            t.set_position((x, H - yb))
            x += w
        x += gap

fig.patches.append(Rectangle((3, 4), 1042, 609, transform=IdentityTransform(),
                             fill=False, edgecolor="#555555", lw=1.3))

fig.savefig("out.png", dpi=100)
